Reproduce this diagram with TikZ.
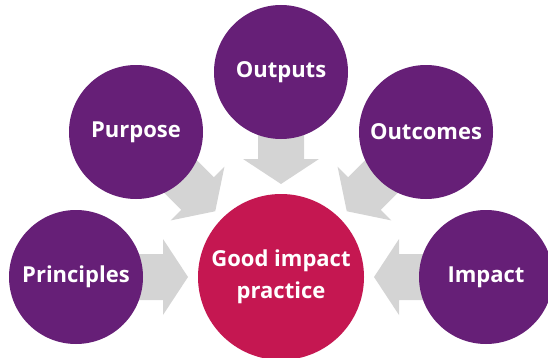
\documentclass[tikz,border=0pt]{standalone}
\usepackage{fontspec}
\setmainfont{Open Sans}
\usetikzlibrary{calc,backgrounds}
\definecolor{cpurple}{HTML}{661F77}
\definecolor{ccrimson}{HTML}{C51751}
\definecolor{cgray}{HTML}{D4D4D4}
\tikzset{
  bubble/.style={circle, fill=cpurple, text=white, inner sep=0pt, minimum size=134pt,
    font=\fontsize{22}{32}\selectfont\bfseries, align=center},
  hub/.style={bubble, fill=ccrimson, minimum size=166pt},
  blockarrow/.style={fill=cgray}
}
\newcommand\feedarrow[1]{%
  \path coordinate (s) at ($(c)!175pt!(#1)$)
        coordinate (b) at ($(c)!118pt!(#1)$)
        coordinate (t) at ($(c)!93pt!(#1)$);
  \fill[blockarrow] ($(s)!23pt!90:(c)$) -- ($(b)!23pt!90:(c)$) -- ($(b)!38pt!90:(c)$)
     -- (t) -- ($(b)!38pt!-90:(c)$) -- ($(b)!23pt!-90:(c)$) -- ($(s)!23pt!-90:(c)$) -- cycle;}
\begin{document}
\begin{tikzpicture}[x=1pt,y=1pt]
\useasboundingbox (0,0) rectangle (548,357);
\node[hub] (c) at (281,80) {Good impact\\practice};
\node[bubble] (pri) at (76,80) {Principles};
\node[bubble] (pur) at (136,225) {Purpose};
\node[bubble] (nout) at (281,285) {Outputs};
\node[bubble] (oc) at (426,225) {Outcomes};
\node[bubble] (imp) at (486,80) {Impact};
\begin{pgfonlayer}{background}
\feedarrow{pri}
\feedarrow{pur}
\feedarrow{nout}
\feedarrow{oc}
\feedarrow{imp}
\end{pgfonlayer}
\end{tikzpicture}
\end{document}
